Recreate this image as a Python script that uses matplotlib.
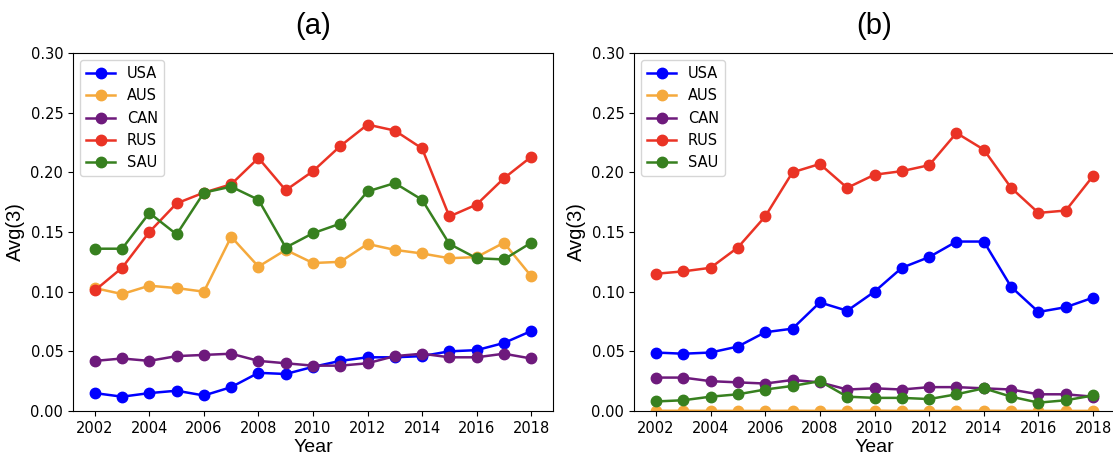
import numpy as np
import matplotlib.pyplot as plt

years = np.arange(2002, 2019)
countries = ["USA", "AUS", "CAN", "RUS", "SAU"]
colors = ["#0000ff", "#f5a93c", "#6e1a7c", "#ea3325", "#37801f"]

# panel (a)
usa_a = [0.015, 0.012, 0.015, 0.017, 0.013, 0.020, 0.032, 0.031, 0.037, 0.042, 0.045, 0.045, 0.046, 0.050, 0.051, 0.057, 0.067]
aus_a = [0.103, 0.098, 0.105, 0.103, 0.100, 0.146, 0.121, 0.135, 0.124, 0.125, 0.140, 0.135, 0.132, 0.128, 0.129, 0.141, 0.113]
can_a = [0.042, 0.044, 0.042, 0.046, 0.047, 0.048, 0.042, 0.040, 0.038, 0.038, 0.040, 0.046, 0.048, 0.045, 0.045, 0.048, 0.044]
rus_a = [0.101, 0.120, 0.150, 0.174, 0.183, 0.190, 0.212, 0.185, 0.201, 0.222, 0.240, 0.235, 0.220, 0.163, 0.173, 0.195, 0.213]
sau_a = [0.136, 0.136, 0.166, 0.148, 0.183, 0.188, 0.177, 0.137, 0.149, 0.157, 0.184, 0.191, 0.177, 0.140, 0.128, 0.127, 0.141]

# panel (b)
usa_b = [0.049, 0.048, 0.049, 0.054, 0.066, 0.069, 0.091, 0.084, 0.100, 0.120, 0.129, 0.142, 0.142, 0.104, 0.083, 0.087, 0.095]
aus_b = [0.0002, 0.0002, 0.0001, 0.0001, 0.0001, 0.0002, 0.0001, 0.0001, 0.0003, 0.0001, 0.0001, 0.0001, 0.0002, 0.0001, 0.0001, 0.0001, 0.0001]
can_b = [0.028, 0.028, 0.025, 0.024, 0.023, 0.026, 0.024, 0.018, 0.019, 0.018, 0.020, 0.020, 0.019, 0.018, 0.014, 0.014, 0.012]
rus_b = [0.115, 0.117, 0.120, 0.137, 0.163, 0.200, 0.207, 0.187, 0.198, 0.201, 0.206, 0.233, 0.219, 0.187, 0.166, 0.168, 0.197]
sau_b = [0.008, 0.009, 0.012, 0.014, 0.018, 0.021, 0.025, 0.012, 0.011, 0.011, 0.010, 0.014, 0.019, 0.012, 0.007, 0.009, 0.013]

panels = [
    ("(a)", [usa_a, aus_a, can_a, rus_a, sau_a]),
    ("(b)", [usa_b, aus_b, can_b, rus_b, sau_b]),
]

fig = plt.figure(figsize=(11.13, 4.57), dpi=100)
positions = [
    [73 / 1113, 46 / 457, 480 / 1113, 358 / 457],
    [634 / 1113, 46 / 457, 481 / 1113, 358 / 457],
]

for pos, (title, series) in zip(positions, panels):
    ax = fig.add_axes(pos)
    for name, vals, c in zip(countries, series, colors):
        ax.plot(years, vals, "-o", color=c, label=name, linewidth=1.8, markersize=7.5)
    ax.set_ylim(0, 0.30)
    ax.set_yticks(np.arange(0, 0.31, 0.05))
    ax.set_xticks(np.arange(2002, 2019, 2))
    ax.tick_params(labelsize=10.5)
    ax.set_xlabel("Year", fontsize=14, family="Liberation Sans", labelpad=2)
    ax.set_ylabel("Avg(3)", fontsize=14.5, family="Liberation Sans")
    ax.set_title(title, fontsize=21, family=["Liberation Sans Narrow", "Liberation Sans"], pad=14)
    ax.legend(loc="upper left", fontsize=10.5)

fig.savefig("out.png", dpi=100)
